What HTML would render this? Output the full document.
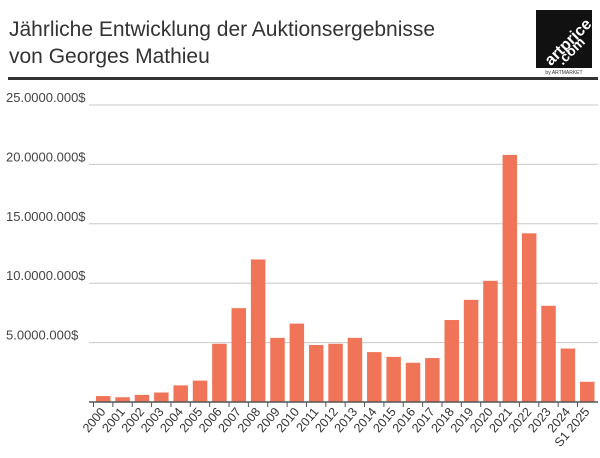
<!DOCTYPE html>
<html><head><meta charset="utf-8"><style>
body{margin:0;background:#fff;font-family:"Liberation Sans",sans-serif;}
#wrap{position:relative;width:600px;height:458px;overflow:hidden;}
</style></head><body>
<div id="wrap">
<svg id="chart" width="600" height="458" xmlns="http://www.w3.org/2000/svg">
<text x="9" y="36" font-size="21" fill="#333">Jährliche Entwicklung der Auktionsergebnisse</text>
<text x="9" y="63" font-size="21" fill="#333">von Georges Mathieu</text>
<g>
<rect x="536" y="10" width="56" height="58" fill="#111"/>
<text x="566" y="48" font-size="16" font-weight="bold" fill="#fff" text-anchor="middle" transform="rotate(-45 566 40)">artprice</text>
<text x="570" y="56" font-size="14" font-weight="bold" fill="#fff" text-anchor="middle" transform="rotate(-45 570 50)">.com</text>
<text x="564" y="74" font-size="5" fill="#333" text-anchor="middle">by ARTMARKET</text>
</g>
<rect x="8" y="77" width="590" height="3" fill="#333"/>
<g id="grid"></g><g id="bars"></g><g id="xaxis"></g>
</svg>
</div>
<script>
const categories=["2000","2001","2002","2003","2004","2005","2006","2007","2008","2009","2010","2011","2012","2013","2014","2015","2016","2017","2018","2019","2020","2021","2022","2023","2024","S1 2025"];
const values=[0.5,0.4,0.6,0.8,1.4,1.8,4.9,7.9,12.0,5.4,6.6,4.8,4.9,5.4,4.2,3.8,3.3,3.7,6.9,8.6,10.2,20.8,14.2,8.1,4.5,1.7];
const tickValues=[0,5,10,15,20,25];
const tickLabels=["","5.0000.000$","10.0000.000$","15.0000.000$","20.0000.000$","25.0000.000$"];
const NS="http://www.w3.org/2000/svg";
const y0=402, pxPer=11.88, x0=89, step=19.36, bw=14.5, xStart=96;
function yScale(v){return y0-v*pxPer;}
function xScale(i){return xStart+i*step;}
function mk(t,a){const e=document.createElementNS(NS,t);for(const k in a)e.setAttribute(k,a[k]);return e;}
const grid=document.getElementById('grid');
tickValues.forEach((v,i)=>{
  if(v>0){const l=mk('line',{x1:x0,x2:598,y1:yScale(v),y2:yScale(v),stroke:'#c8c8c8','stroke-width':1});
  
  
  grid.appendChild(l);}
  const t=mk('text',{x:6,y:yScale(v)-3,'font-size':13,fill:'#444'});
  t.textContent=tickLabels[i];
  
  
  grid.appendChild(t);
});
const bars=document.getElementById('bars');
values.forEach((v,i)=>{
  const r=mk('rect',{x:xScale(i),y:yScale(v),width:bw,height:v*pxPer,fill:'#f07558'});
  
  
  bars.appendChild(r);
});
const xa=document.getElementById('xaxis');
const axl=mk('line',{x1:x0,x2:598,y1:y0,y2:y0,stroke:'#555','stroke-width':1.5});


xa.appendChild(axl);
categories.forEach((c,i)=>{
  const tx=xScale(i)-2.5;
  const tk=mk('line',{x1:tx,x2:tx,y1:y0,y2:y0+5,stroke:'#555','stroke-width':1});
  
  
  xa.appendChild(tk);
  const cx=xScale(i)+bw/2+3, cy=y0+10;
  const t=mk('text',{x:cx,y:cy,'font-size':12.5,fill:'#333','text-anchor':'end',transform:'rotate(-50 '+cx+' '+cy+')'});
  t.textContent=c;
  
  
  xa.appendChild(t);
});
</script>
</body></html>
